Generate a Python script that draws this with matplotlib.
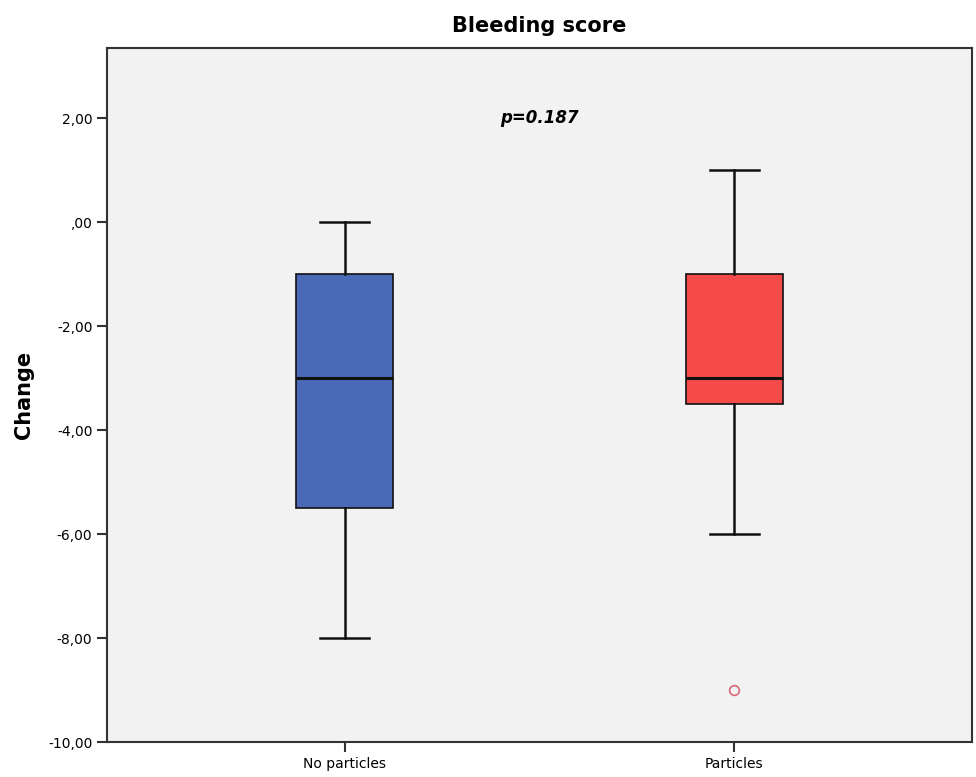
import matplotlib
matplotlib.use("Agg")
from matplotlib import pyplot as plt

groups = ["No particles", "Particles"]
med = [-3.0, -3.0]
q1 = [-5.5, -3.5]
q3 = [-1.0, -1.0]
wlo = [-8.0, -6.0]
whi = [0.0, 1.0]
outliers = [[], [-9.0]]
colors = ["#4a6ab8", "#f54a4a"]
yticks = [2, 0, -2, -4, -6, -8, -10]
ytick_labels = ["2,00", ",00", "-2,00", "-4,00", "-6,00", "-8,00", "-10,00"]

stats = []
for i in range(len(groups)):
    stats.append({"med": med[i], "q1": q1[i], "q3": q3[i],
                  "whislo": wlo[i], "whishi": whi[i],
                  "fliers": outliers[i], "label": groups[i]})

fig = plt.figure(figsize=(9.76, 7.77), dpi=100)
ax = fig.add_axes([0.1096, 0.045, 0.8864, 0.893])
ax.set_facecolor("#f2f2f2")

bp = ax.bxp(stats, positions=[1, 2], widths=0.25, patch_artist=True,
            boxprops=dict(edgecolor="#111111", linewidth=1.2),
            medianprops=dict(color="#111111", linewidth=2.2),
            whiskerprops=dict(color="#111111", linewidth=1.8),
            capprops=dict(color="#111111", linewidth=1.8),
            flierprops=dict(marker="o", markersize=7, markerfacecolor="none",
                            markeredgecolor="#d9677a", markeredgewidth=1.2))
for patch, c in zip(bp["boxes"], colors):
    patch.set_facecolor(c)

ax.set_xlim(0.39, 2.61)
ax.set_ylim(-10, 3.35)
ax.set_yticks(yticks)
ax.set_yticklabels(ytick_labels, fontsize=10)
ax.set_xticks([1, 2])
ax.set_xticklabels(groups, fontsize=10)
ax.tick_params(axis="both", length=7, width=1.5, color="#333333", direction="out")
for s in ax.spines.values():
    s.set_linewidth(1.5)
    s.set_color("#333333")

ax.set_ylabel("Change", fontsize=15, fontweight="bold", labelpad=10)
ax.set_title("Bleeding score", fontsize=15, fontweight="bold", pad=12)
ax.text(1.5, 2.0, "p=0.187", fontsize=12, fontweight="bold", fontstyle="italic",
        ha="center", va="center")

fig.savefig("out.png", dpi=100)
